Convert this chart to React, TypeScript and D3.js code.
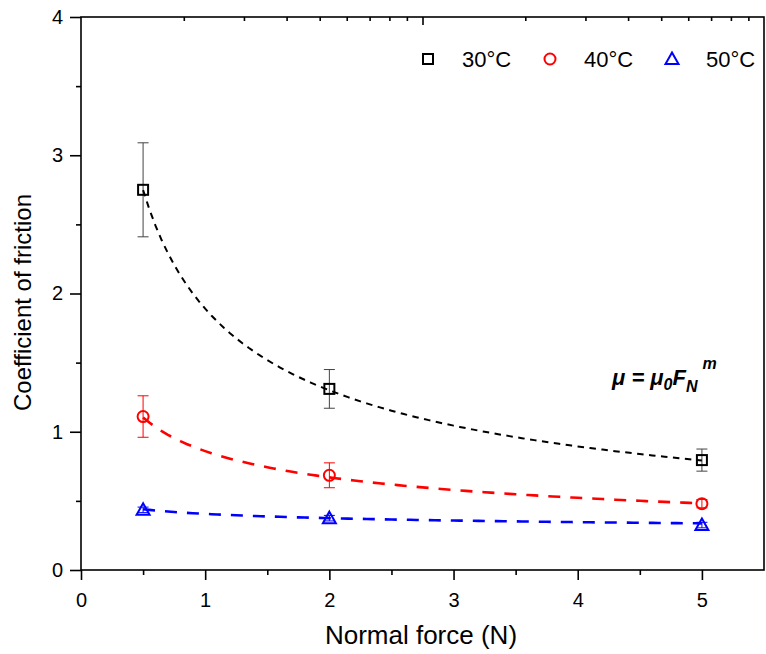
import React, { useEffect, useRef } from "react";
import * as d3 from "d3";

// measured points (mean ± sd), normal force in N
const forces = [0.5, 2, 5];
const series = ["30°C", "40°C", "50°C"];
const mu30 = [2.75, 1.31, 0.795];
const err30 = [0.34, 0.14, 0.08];
const mu40 = [1.11, 0.685, 0.48];
const err40 = [0.15, 0.09, 0.03];
const mu50 = [0.435, 0.375, 0.325];
const err50 = [0.02, 0.02, 0.02];
// power-law fit  mu = mu0 * F^m
const fitMu0 = [1.89, 0.86, 0.406];
const fitM = [-0.54, -0.36, -0.115];
const colors = ["#000000", "#ff0000", "#0000ff"];
const dashes = ["6.5,5.5", "12,10", "12,10"];
const xTicks = [0, 1, 2, 3, 4, 5];
const yTicks = [0, 1, 2, 3, 4];

const W = 766;
const H = 654;
const left = 81;
const right = 764;
const top = 17;
const bottom = 570;

export default function App() {
  const ref = useRef<SVGGElement>(null);

  useEffect(() => {
    const g = d3.select(ref.current);
    g.selectAll("*").remove();

    const x = d3.scaleLinear().domain([0, 5.5]).range([left, right]);
    const y = d3.scaleLinear().domain([0, 4]).range([bottom, top]);
    const xTop = d3.scaleLog().domain([1, 100]).range([left, right]);
    const font = "'Liberation Sans', Arial, sans-serif";

    const style = (sel: any, labels: boolean) => {
      sel.select(".domain").remove();
      sel.selectAll(".tick line").attr("stroke", "#000").attr("stroke-width", 1.6);
      if (labels) sel.selectAll(".tick text").attr("font-family", font).attr("font-size", 20).attr("fill", "#000");
      else sel.selectAll(".tick text").remove();
    };

    // bottom axis
    g.append("g").attr("transform", `translate(0,${bottom})`)
      .call(d3.axisBottom(x).tickValues(d3.range(0.5, 5.5, 1)).tickSize(5).tickFormat(() => ""))
      .call((s) => style(s, false));
    g.append("g").attr("transform", `translate(0,${bottom})`)
      .call(d3.axisBottom(x).tickValues(xTicks).tickSize(10).tickPadding(13).tickFormat(d3.format("d")))
      .call((s) => style(s, true));

    // left axis
    g.append("g").attr("transform", `translate(${left},0)`)
      .call(d3.axisLeft(y).tickValues(d3.range(0.5, 4, 1)).tickSize(5).tickFormat(() => ""))
      .call((s) => style(s, false));
    g.append("g").attr("transform", `translate(${left},0)`)
      .call(d3.axisLeft(y).tickValues(yTicks).tickSize(11).tickPadding(7).tickFormat(d3.format("d")))
      .call((s) => style(s, true));

    // top axis (log, inward ticks)
    const minorLog = [2, 3, 4, 5, 6, 7, 8, 9, 20, 30, 40, 50, 60, 70, 80, 90];
    g.append("g").attr("transform", `translate(0,${top})`)
      .call(d3.axisTop(xTop).tickValues(minorLog).tickSize(-4).tickFormat(() => ""))
      .call((s) => style(s, false));
    g.append("g").attr("transform", `translate(0,${top})`)
      .call(d3.axisTop(xTop).tickValues([10]).tickSize(-8).tickFormat(() => ""))
      .call((s) => style(s, false));

    // frame
    g.append("rect").attr("x", left).attr("y", top).attr("width", right - left).attr("height", bottom - top)
      .attr("fill", "none").attr("stroke", "#000").attr("stroke-width", 1.6);

    const values = [mu30, mu40, mu50];
    const errs = [err30, err40, err50];

    const symbol = (sel: any, i: number, cx: number, cy: number) => {
      if (i === 0) {
        sel.append("rect").attr("x", cx - 5).attr("y", cy - 5).attr("width", 10).attr("height", 10)
          .attr("fill", "none").attr("stroke", colors[i]).attr("stroke-width", 2);
      } else if (i === 1) {
        sel.append("circle").attr("cx", cx).attr("cy", cy).attr("r", 5.5)
          .attr("fill", "none").attr("stroke", colors[i]).attr("stroke-width", 2);
      } else {
        sel.append("path").attr("d", `M${cx},${cy - 6.5}L${cx + 6.5},${cy + 5}L${cx - 6.5},${cy + 5}Z`)
          .attr("fill", "none").attr("stroke", colors[i]).attr("stroke-width", 2);
      }
    };

    values.forEach((vals, i) => {
      const col = i === 0 ? "#444" : colors[i];
      vals.forEach((v, j) => {
        const cx = x(forces[j]);
        const e = errs[i][j];
        g.append("line").attr("x1", cx).attr("x2", cx).attr("y1", y(v - e)).attr("y2", y(v + e))
          .attr("stroke", col).attr("stroke-width", 1);
        [v - e, v + e].forEach((yy) => {
          g.append("line").attr("x1", cx - 5.5).attr("x2", cx + 5.5).attr("y1", y(yy)).attr("y2", y(yy))
            .attr("stroke", col).attr("stroke-width", 1);
        });
        symbol(g, i, cx, y(v));
      });
    });

    // fitted curves
    const fx = d3.range(0.5, 5.0001, 0.05);
    values.forEach((_, i) => {
      const line = d3.line<number>().x((d) => x(d)).y((d) => y(fitMu0[i] * Math.pow(d, fitM[i])));
      g.append("path").attr("d", line(fx)).attr("fill", "none").attr("stroke", colors[i])
        .attr("stroke-width", i === 0 ? 2 : 2.6).attr("stroke-dasharray", dashes[i]);
    });

    // legend
    const legX = [428, 550, 672];
    series.forEach((s, i) => {
      symbol(g, i, legX[i], 59);
      g.append("text").attr("x", legX[i] + 34).attr("y", 67).attr("font-family", font)
        .attr("font-size", 22).attr("fill", "#000").text(s);
    });

    // axis titles
    g.append("text").attr("x", 421).attr("y", 644).attr("text-anchor", "middle")
      .attr("font-family", font).attr("font-size", 26).attr("fill", "#000").text("Normal force (N)");
    g.append("text").attr("transform", `translate(31,${(top + bottom) / 2 + 9}) rotate(-90)`)
      .attr("text-anchor", "middle").attr("font-family", font).attr("font-size", 24).attr("fill", "#000")
      .text("Coefficient of friction");

    // formula
    const f = g.append("text").attr("x", 612).attr("y", 385).attr("font-family", font)
      .attr("font-size", 22).attr("font-weight", "bold").attr("font-style", "italic").attr("fill", "#000");
    f.append("tspan").text("μ = μ");
    f.append("tspan").attr("font-size", 16).attr("dy", 5).text("0");
    f.append("tspan").attr("dy", -5).text("F");
    f.append("tspan").attr("font-size", 16).attr("dy", 7).text("N");
    f.append("tspan").attr("font-size", 16).attr("dx", 5).attr("dy", -23).text("m");
  }, []);

  return (
    <svg width={W} height={H} style={{ position: "absolute", left: 0, top: 0, background: "#fff" }}>
      <g ref={ref} />
    </svg>
  );
}
